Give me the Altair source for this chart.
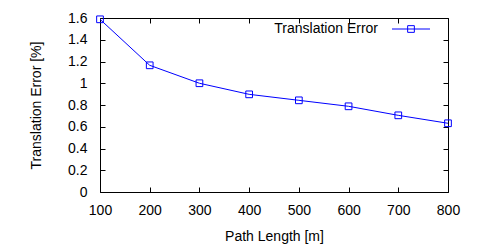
import altair as alt
import pandas as pd

path_length = [100, 200, 300, 400, 500, 600, 700, 800]
trans_error = [1.588, 1.165, 1.0, 0.898, 0.843, 0.788, 0.705, 0.632]
x_ticks = [100, 200, 300, 400, 500, 600, 700, 800]
y_ticks = [0, 0.2, 0.4, 0.6, 0.8, 1.0, 1.2, 1.4, 1.6]
series_name = ["Translation Error"]

df = pd.DataFrame({"len": path_length, "err": trans_error})
FONT = "Liberation Sans"
BLUE = "#0000ff"
FS = 14

xs = alt.Scale(domain=[100, 800], nice=False)
ys = alt.Scale(domain=[0, 1.6], nice=False)

x_axis = alt.Axis(values=x_ticks, title="Path Length [m]", orient="bottom",
                  tickSize=5, offset=-5, domain=False, grid=False, labelFlush=False,
                  labelPadding=11, titlePadding=12, format="d")
y_axis = alt.Axis(values=y_ticks, title="Translation Error [%]", orient="left",
                  tickSize=5, offset=-5, domain=False, grid=False, labelFlush=False,
                  labelPadding=13, titlePadding=24, format=".1~f")

base = alt.Chart(df)
line = base.mark_line(color=BLUE, strokeWidth=1).encode(
    x=alt.X("len:Q", scale=xs, axis=x_axis),
    y=alt.Y("err:Q", scale=ys, axis=y_axis),
)
pts = base.mark_point(shape="square", filled=False, color=BLUE, size=45, strokeWidth=1, opacity=1).encode(
    x=alt.X("len:Q", scale=xs, axis=x_axis),
    y=alt.Y("err:Q", scale=ys, axis=y_axis),
)

leg_df = pd.DataFrame({"name": series_name})
leg_text = alt.Chart(leg_df).mark_text(align="right", baseline="middle", fontSize=FS, font=FONT, color="black").encode(
    x=alt.value(278), y=alt.value(11), text="name:N")
leg_line = alt.Chart(leg_df).mark_rule(color=BLUE, strokeWidth=1).encode(
    x=alt.value(292), x2=alt.value(330), y=alt.value(11))
leg_pt = alt.Chart(leg_df).mark_point(shape="square", filled=False, color=BLUE, size=45, strokeWidth=1, opacity=1).encode(
    x=alt.value(311), y=alt.value(11))

main = alt.layer(line, pts, leg_text, leg_line, leg_pt)

mirror = base.mark_line(opacity=0).encode(
    x=alt.X("len:Q", scale=xs, axis=alt.Axis(values=x_ticks, orient="top", labels=False, title=None,
                                              tickSize=5, offset=-5, domain=False, grid=False)),
    y=alt.Y("err:Q", scale=ys, axis=alt.Axis(values=y_ticks, orient="right", labels=False, title=None,
                                              tickSize=5, offset=-5, domain=False, grid=False)),
)

chart = alt.layer(main, mirror).resolve_axis(x="independent", y="independent").properties(
    width=348, height=174,
    background="white",
    autosize=alt.AutoSizeParams(type="none"),
    padding={"left": 100, "top": 18, "right": 52, "bottom": 58},
).configure_view(stroke="black", strokeWidth=1).configure_axis(
    labelFont=FONT, titleFont=FONT, labelFontSize=FS, titleFontSize=FS,
    labelColor="black", titleColor="black", tickColor="black", tickWidth=1,
    titleFontWeight="normal",
)

chart.save("out.html", embed_options={"renderer": "svg", "actions": False})
